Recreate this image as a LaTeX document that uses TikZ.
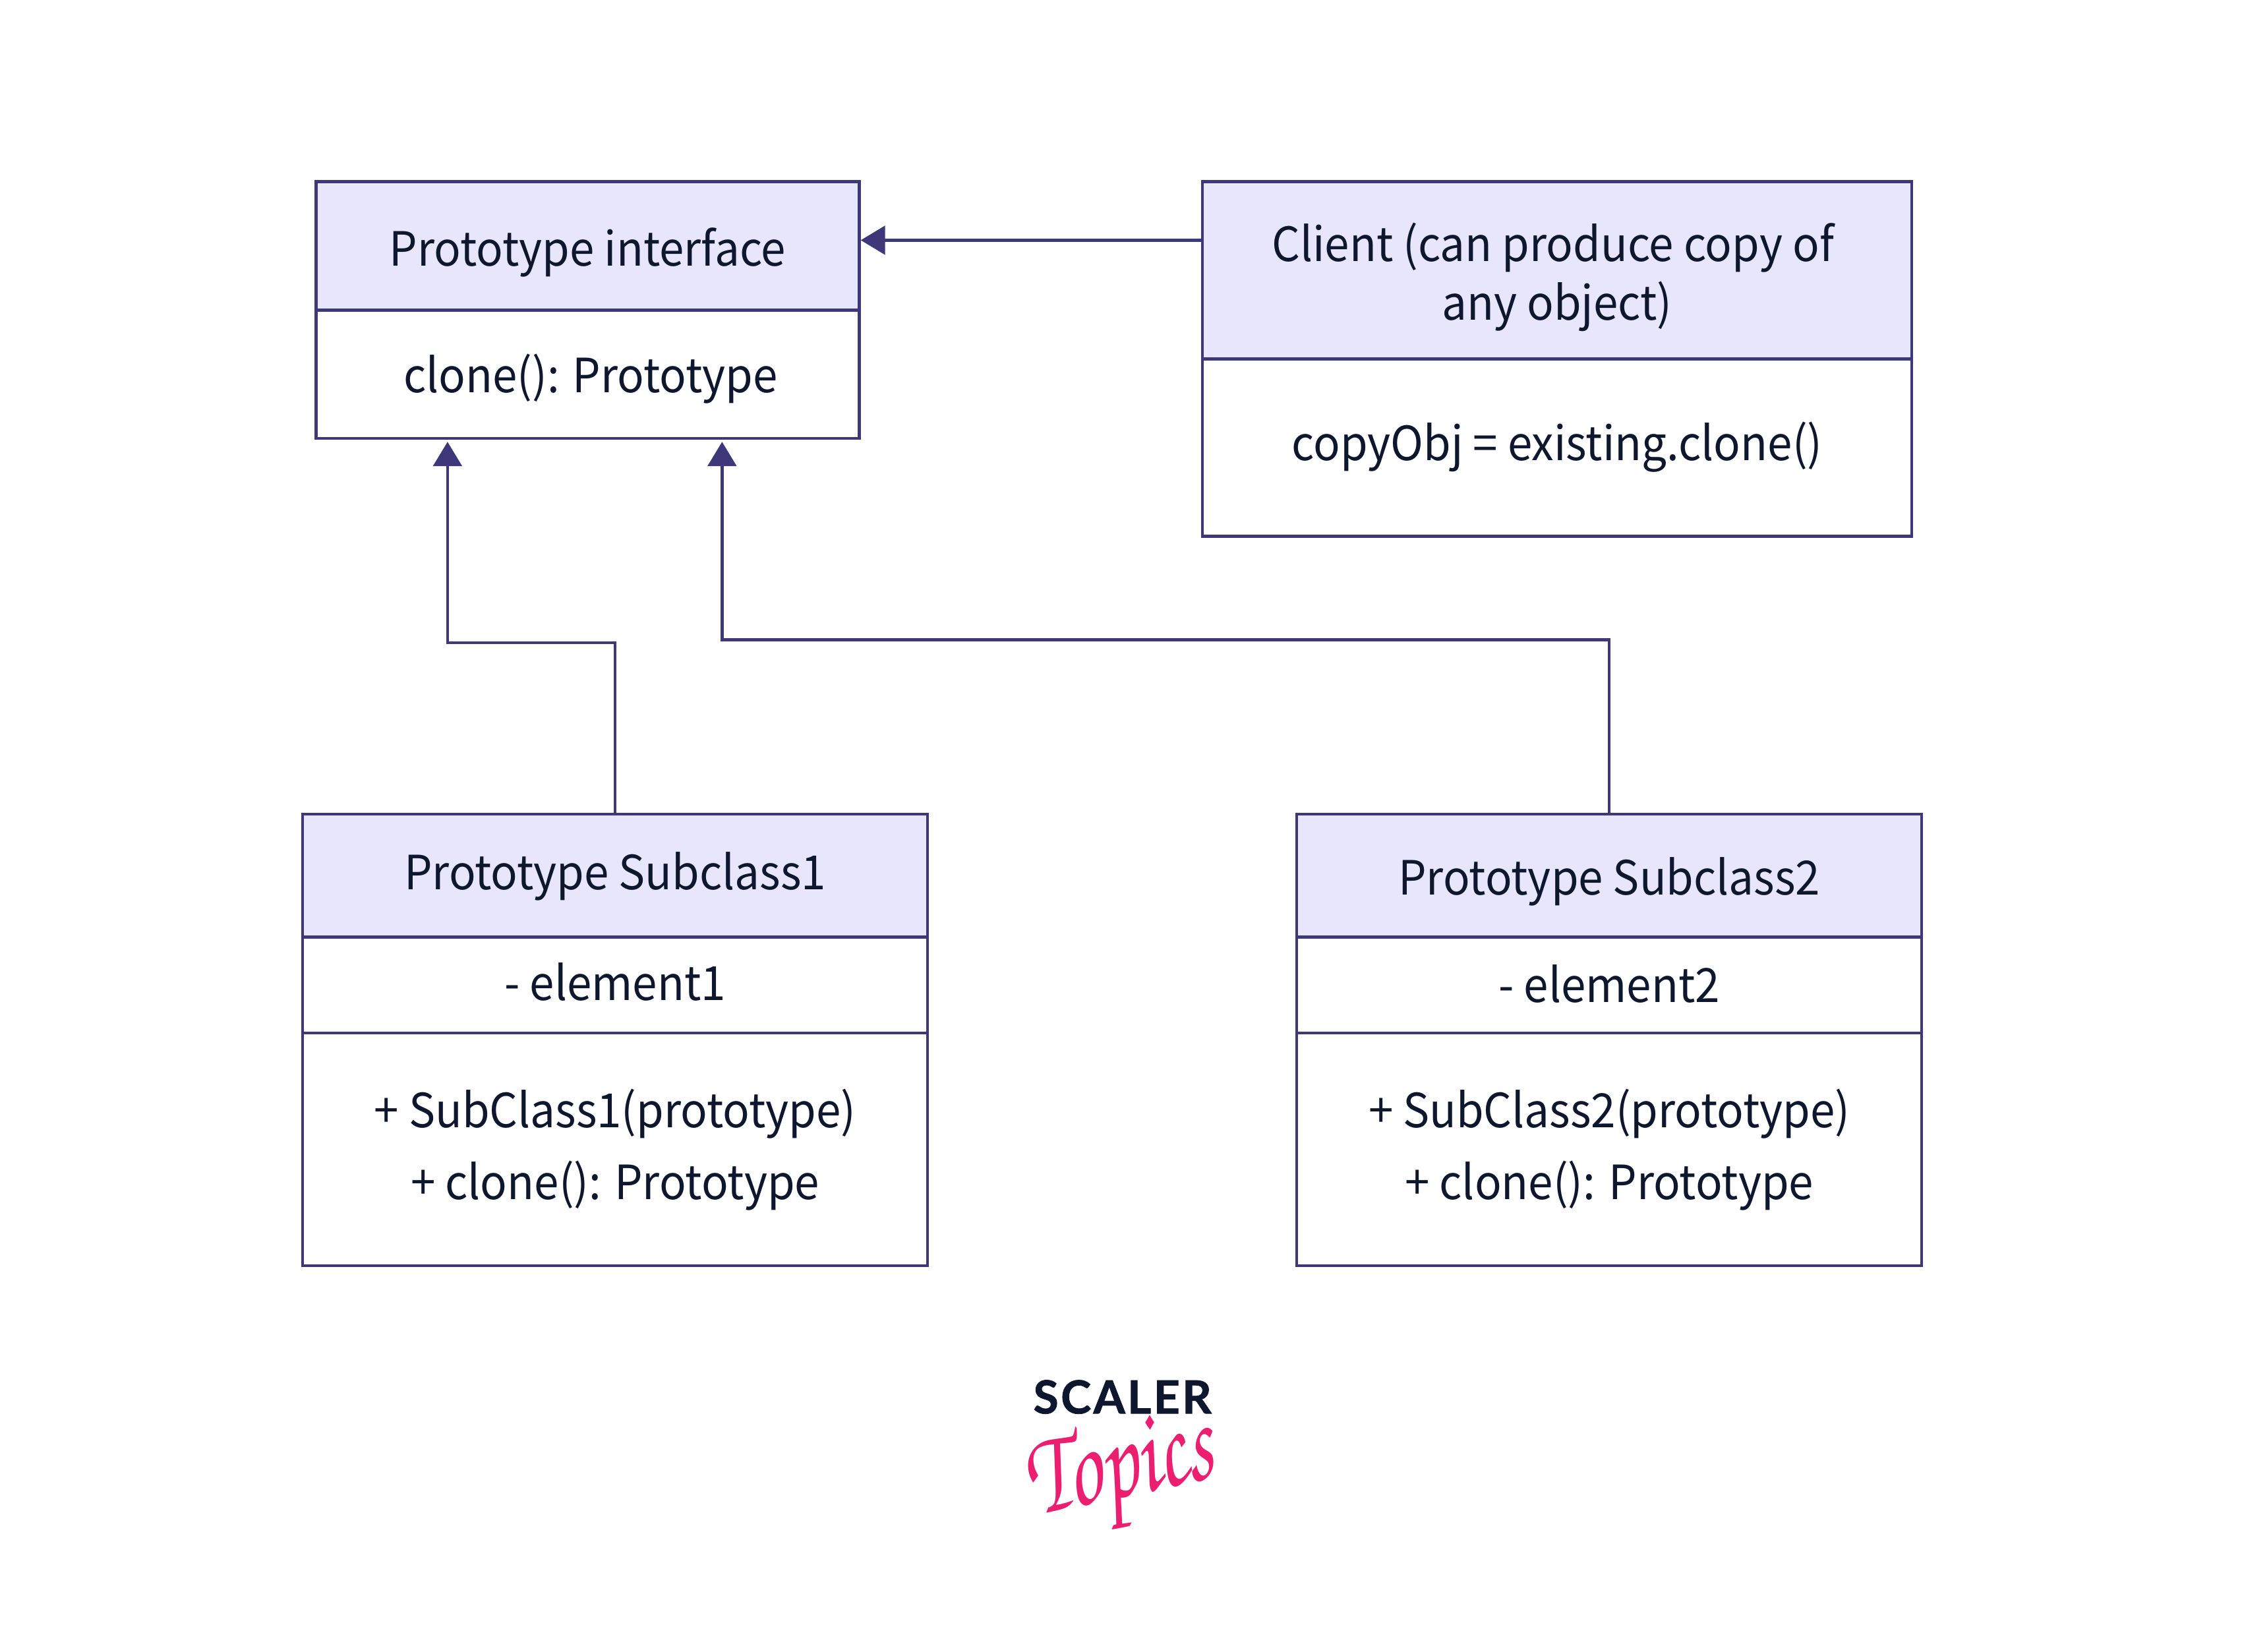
\documentclass[tikz,border=0pt]{standalone}
\usepackage{fontspec}
\usepackage{xcolor}
\usetikzlibrary{arrows.meta}
\setmainfont[FakeStretch=0.94]{Noto Sans CJK SC}
\newfontfamily\logofont[FakeBold=1.2]{Lato}
\definecolor{umlline}{RGB}{62,56,122}
\definecolor{umlhead}{RGB}{232,230,252}
\definecolor{umltext}{RGB}{15,23,47}
\definecolor{logopink}{RGB}{236,30,112}
\tikzset{
  umlbox/.style={draw=umlline,line width=2pt,fill=white,inner sep=0pt,align=center,text=umltext,
    font=\fontsize{33}{50}\selectfont},
  umlhdr/.style={umlbox,fill=umlhead},
  umllink/.style={draw=umlline,line width=2pt,-{Triangle[length=17pt,width=20pt]}},
}
% one text line, lowered a little inside its box
\newcommand{\ls}[2][0pt]{\raisebox{-#1}[\height][\depth]{\strut #2}}

\begin{document}
\begin{tikzpicture}[x=1pt,y=1pt,yscale=-1,xscale=1]
\useasboundingbox (0,0) rectangle (1568,1155); %page size of the diagram

% Prototype interface
\node [umlhdr,minimum width=380pt,minimum height=90pt] (protoHead) at (411,172) {\ls[4pt]{Prototype interface}};
\node [umlbox,minimum width=380pt,minimum height=89.5pt] (protoBody) at (411,261.7) {\ls[3pt]{\kern4pt clone(): Prototype}};

% Client
\node [umlhdr,minimum width=496pt,minimum height=124pt] (clientHead) at (1089,189) {\ls[4.5pt]{Client (can produce copy of\kern6pt}\\[-9pt]\ls[4.5pt]{any object)}};
\node [umlbox,minimum width=496pt,minimum height=124pt] (clientBody) at (1089,313) {\ls[-1pt]{copyObj = existing.clone()}};

% Prototype Subclass1
\node [umlhdr,minimum width=437pt,minimum height=86pt] (subOneHead) at (430.2,612.4) {\ls[0pt]{Prototype Subclass1}};
\node [umlbox,minimum width=437pt,minimum height=67pt] (subOneAttr) at (430.2,688.8) {\ls[1pt]{- element1}};
\node [umlbox,minimum width=437pt,minimum height=163pt] (subOneMeth) at (430.2,803.8) {\ls{+ SubClass1(prototype)}\\\ls{+ clone(): Prototype}};

% Prototype Subclass2
\node [umlhdr,minimum width=437pt,minimum height=86pt] (subTwoHead) at (1125.5,612.4) {\ls[3.5pt]{Prototype Subclass2}};
\node [umlbox,minimum width=437pt,minimum height=67pt] (subTwoAttr) at (1125.5,688.8) {\ls[2pt]{- element2}};
\node [umlbox,minimum width=437pt,minimum height=163pt] (subTwoMeth) at (1125.5,803.8) {\ls{+ SubClass2(prototype)}\\\ls{+ clone(): Prototype}};

% free ends of the arrows
\coordinate (clientTip) at (602,168);
\coordinate (subOneTip) at (313,309);
\coordinate (subTwoTip) at (505,309);

%Straight Lines
\draw [umllink] (clientHead.west |- clientTip) -- (clientTip);
\draw [umllink] (subOneHead.north) -- (430.2,449.5) -- (313,449.5) -- (subOneTip);
\draw [umllink] (subTwoHead.north) -- (1125.5,447.5) -- (505,447.5) -- (subTwoTip);

% Logo
\node [text=umltext,inner sep=0pt,font=\logofont\fontsize{32}{32}\selectfont\bfseries] (logoName) at (785,977) {\addfontfeature{LetterSpace=5}SCALER};
\node [text=logopink,inner sep=0pt,rotate=12,xscale=0.9,yscale=1.28,font=\fontencoding{T1}\fontfamily{pzc}\fontseries{mb}\fontshape{it}\fontsize{66}{66}\selectfont] (logoTopics) at (784,1032) {Topics};

\end{tikzpicture}
\end{document}
